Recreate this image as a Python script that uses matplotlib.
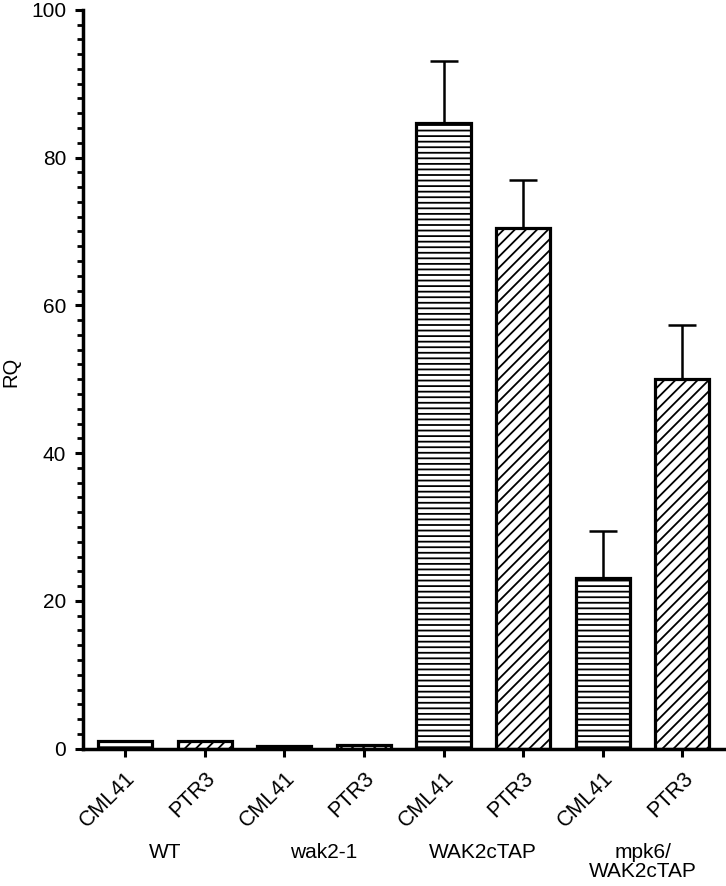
import matplotlib
matplotlib.use("Agg")
import matplotlib.pyplot as plt
import numpy as np
from matplotlib.ticker import MultipleLocator

plt.rcParams['font.family'] = ['Liberation Sans', 'DejaVu Sans']
plt.rcParams['hatch.linewidth'] = 1.3

genes = ["CML41", "PTR3", "CML41", "PTR3", "CML41", "PTR3", "CML41", "PTR3"]
groups = ["WT", "wak2-1", "WAK2cTAP", "mpk6/\nWAK2cTAP"]
values = [1.0, 1.0, 0.3, 0.5, 84.7, 70.5, 23.1, 50.0]
errors = [0.0, 0.0, 0.0, 0.0, 8.4, 6.4, 6.3, 7.3]
hatches = ["---", "///"] * 4

fig = plt.figure(figsize=(7.26, 8.86), dpi=100)
ax = fig.add_axes([0.114, 0.155, 0.883, 0.834])

x = np.arange(len(values))
for xi, v, e, h in zip(x, values, errors, hatches):
    ax.bar(xi, v, width=0.68, color='white', edgecolor='black', linewidth=2.3, hatch=h, zorder=2)
    if e > 0:
        ax.errorbar(xi, v, yerr=[[0], [e]], fmt='none', ecolor='black', elinewidth=1.8,
                    capsize=10, capthick=1.8, zorder=1)

ax.set_xlim(-0.53, 7.52)
ax.set_ylim(0, 100)
ax.yaxis.set_major_locator(MultipleLocator(20))
ax.yaxis.set_minor_locator(MultipleLocator(2))
ax.set_xticks(x)
ax.set_xticklabels(genes, rotation=45, ha='right', rotation_mode='anchor', fontsize=15.5)
ax.tick_params(axis='y', which='major', length=6, width=2.2, labelsize=15, pad=6)
ax.tick_params(axis='y', which='minor', length=4, width=2.0)
ax.tick_params(axis='x', which='major', length=6, width=2.2, pad=8)
for s in ['top', 'right']:
    ax.spines[s].set_visible(False)
for s in ['left', 'bottom']:
    ax.spines[s].set_linewidth(2.5)
ax.set_ylabel("RQ", fontsize=14.5)
ax.yaxis.set_label_coords(-0.097, 0.51)

for i, g in enumerate(groups):
    ax.text(2 * i + 0.5, -0.128, g, transform=ax.get_xaxis_transform(), ha='center', va='top',
            fontsize=15, linespacing=1.0)

fig.savefig("out.png", dpi=100)
